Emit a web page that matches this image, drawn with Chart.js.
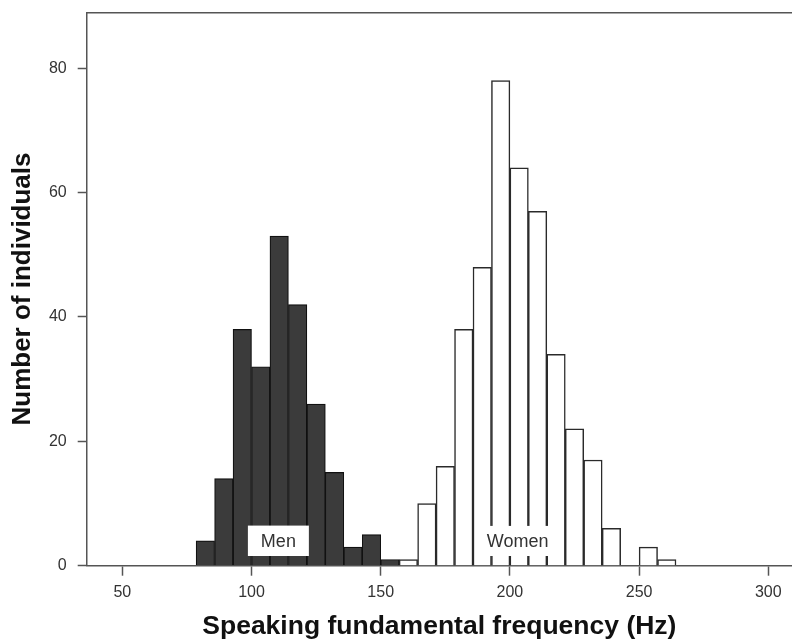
<!DOCTYPE html>
<html>
<head>
<meta charset="utf-8">
<script src="https://cdn.jsdelivr.net/npm/chart.js@4"></script>
<style>
  html, body { margin: 0; padding: 0; background: #fff; overflow: hidden; }
  #c { display: block; }
</style>
</head>
<body>
<canvas id="c" width="792" height="641"></canvas>
<script>
// ---- data (bin centres in Hz; bin width 50/7 Hz) ----
const menBins   = [82.14, 89.29, 96.43, 103.57, 110.71, 117.86, 125.00, 132.14, 139.29, 146.43, 153.57];
const menCounts = [4, 14, 38, 32, 53, 42, 26, 15, 3, 5, 1];

const womenBins   = [160.71, 167.86, 175.00, 182.14, 189.29, 196.43, 203.57, 210.71, 217.86, 225.00, 232.14, 239.29, 246.43, 253.57, 260.71];
const womenCounts = [1, 10, 16, 38, 48, 78, 64, 57, 34, 22, 17, 6, 0, 3, 1];

const xTicks = [50, 100, 150, 200, 250, 300];
const yTicks = [0, 20, 40, 60, 80];

const xTitle = 'Speaking fundamental frequency (Hz)';
const yTitle = 'Number of individuals';

// in-plot labels (data units)
const groupLabels = [
  { text: 'Men',   x0: 98.6,  x1: 122.2, y0: 1.56, y1: 6.45 },
  { text: 'Women', x0: 188.0, x1: 218.0, y0: 1.56, y1: 6.40 }
];

const FAMILY = '"Liberation Sans", Arial, Helvetica, sans-serif';
const AXIS = '#555';

const toXY = (xs, ys) => xs.map((x, i) => ({ x: x, y: ys[i] }));

const labelPlugin = {
  id: 'groupLabels',
  afterDatasetsDraw(chart) {
    const ctx = chart.ctx, xs = chart.scales.x, ys = chart.scales.y;
    ctx.save();
    groupLabels.forEach(l => {
      const px0 = xs.getPixelForValue(l.x0), px1 = xs.getPixelForValue(l.x1);
      const py0 = ys.getPixelForValue(l.y1), py1 = ys.getPixelForValue(l.y0);
      ctx.fillStyle = '#fff';
      ctx.fillRect(px0, py0, px1 - px0, py1 - py0);
      ctx.fillStyle = '#333';
      ctx.font = '18px ' + FAMILY;
      ctx.textAlign = 'center';
      ctx.textBaseline = 'middle';
      ctx.fillText(l.text, (px0 + px1) / 2, (py0 + py1) / 2 + 1);
    });
    ctx.restore();
  }
};

const noPadH = s => { s.paddingLeft = 0; s.paddingRight = 0; };

new Chart(document.getElementById('c'), {
  type: 'bar',
  data: {
    datasets: [
      {
        label: 'Men',
        data: toXY(menBins, menCounts),
        backgroundColor: '#3b3b3b',
        borderColor: '#111111',
        borderWidth: 1.2
      },
      {
        label: 'Women',
        data: toXY(womenBins, womenCounts),
        backgroundColor: '#ffffff',
        borderColor: '#2a2a2a',
        borderWidth: 1.5
      }
    ]
  },
  options: {
    responsive: false,
    devicePixelRatio: 1,
    animation: false,
    grouped: false,
    barPercentage: 1,
    categoryPercentage: 1,
    layout: { padding: { top: 12.3, right: 0, left: 0, bottom: 0 } },
    plugins: { legend: { display: false }, tooltip: { enabled: false } },
    scales: {
      x: {
        type: 'linear',
        position: 'bottom',
        offset: false,
        min: 36.22,
        max: 309.17,
        afterBuildTicks: s => { s.ticks = xTicks.map(v => ({ value: v })); },
        afterFit: s => { s.height = 75.3; noPadH(s); },
        grid: { offset: false, drawOnChartArea: false, drawTicks: true, tickLength: 10, tickColor: AXIS, tickWidth: 1.5 },
        border: { display: true, color: AXIS, width: 1.5 },
        ticks: { color: '#333', font: { size: 16, family: FAMILY }, padding: 7, maxRotation: 0, autoSkip: false },
        title: {
          display: true, text: xTitle, color: '#111',
          font: { size: 26.5, weight: 'bold', family: FAMILY, lineHeight: 1.1 },
          padding: { top: 0, bottom: 0 }
        }
      },
      x2: {
        type: 'linear',
        position: 'top',
        offset: false,
        min: 36.22,
        max: 309.17,
        afterFit: s => { s.height = 0; noPadH(s); },
        grid: { display: false, drawTicks: false },
        border: { display: true, color: AXIS, width: 1.5 },
        ticks: { display: false }
      },
      y: {
        type: 'linear',
        position: 'left',
        min: 0,
        max: 89,
        afterBuildTicks: s => { s.ticks = yTicks.map(v => ({ value: v })); },
        afterFit: s => { s.width = 86.7; s.paddingTop = 0; s.paddingBottom = 0; },
        grid: { drawOnChartArea: false, drawTicks: true, tickLength: 9, tickColor: AXIS, tickWidth: 1.5 },
        border: { display: true, color: AXIS, width: 1.5 },
        ticks: { color: '#333', font: { size: 16, family: FAMILY }, padding: 11 },
        title: {
          display: true, text: yTitle, color: '#111',
          font: { size: 26, weight: 'bold', family: FAMILY, lineHeight: 1.1 },
          padding: { top: 9, bottom: 0 }
        }
      }
    }
  },
  plugins: [labelPlugin]
});
</script>
</body>
</html>
